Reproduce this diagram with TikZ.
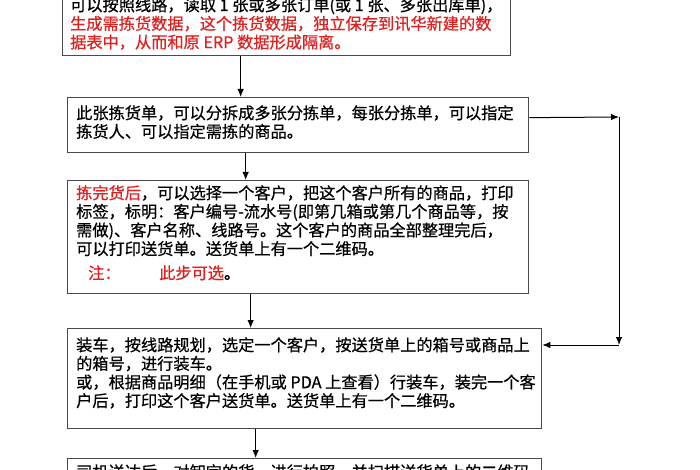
\documentclass[tikz,border=0pt]{standalone}
\usepackage{fontspec}
\usetikzlibrary{arrows.meta}
\newfontfamily\cjk[FakeBold=0.6]{Noto Sans CJK SC}
\definecolor{boxline}{HTML}{4A4A4A}
\definecolor{redtxt}{HTML}{E0201F}
\tikzset{
  box/.style={draw=boxline, line width=1.3pt, fill=white, inner sep=0pt, anchor=north west},
  txt/.style={inner sep=0pt, anchor=base west, font=\cjk\fontsize{16.2}{18.6}\selectfont},
  arr/.style={draw=black, line width=1pt, -{Latex[length=8pt,width=6.5pt]}}
}
\newcommand{\lines}[1]{\parbox[t]{480pt}{\cjk\fontsize{16.2}{18.6}\selectfont #1}}
\begin{document}
\begin{tikzpicture}[x=1pt,y=-1pt]
\useasboundingbox (0,0) rectangle (700,470);
\clip (0,0) rectangle (700,470);
\fill[white] (0,0) rectangle (700,470);

% boxes
\node[box, minimum width=448pt, minimum height=75pt] (b1) at (62,-20) {};
\node[box, minimum width=461pt, minimum height=55pt] (b2) at (67,97) {};
\node[box, minimum width=461pt, minimum height=113pt] (b3) at (67,180) {};
\node[box, minimum width=474pt, minimum height=100pt] (b4) at (67,328) {};
\node[box, minimum width=474pt, minimum height=60pt] (b5) at (67,458) {};

% texts
\node[txt] (t1) at (70,11) {\lines{可以按照线路，读取 1 张或多张订单(或 1 张、多张出库单)，\\
\textcolor{redtxt}{生成需拣货数据，这个拣货数据，独立保存到讯华新建的数}\\
\textcolor{redtxt}{据表中，从而和原 ERP 数据形成隔离。}}};
\node[txt] (t2) at (76,119) {\lines{此张拣货单，可以分拆成多张分拣单，每张分拣单，可以指定\\
拣货人、可以指定需拣的商品。}};
\node[txt] (t3) at (76,199) {\lines{\textcolor{redtxt}{拣完货后}，可以选择一个客户，把这个客户所有的商品，打印\\
标签，标明：客户编号-流水号(即第几箱或第几个商品等，按\\
需做)、客户名称、线路号。这个客户的商品全部整理完后，\\
可以打印送货单。送货单上有一个二维码。}};
\node[txt, text=redtxt] (t3a) at (88,279) {注：};
\node[txt] (t3b) at (159,279) {\textcolor{redtxt}{此步可选}。};
\node[txt] (t4) at (76,351) {\lines{装车，按线路规划，选定一个客户，按送货单上的箱号或商品上\\
的箱号，进行装车。\\
或，根据商品明细（在手机或 PDA 上查看）行装车，装完一个客\\
户后，打印这个客户送货单。送货单上有一个二维码。}};
\node[txt] (t5) at (76,478) {\lines{司机送达后，对卸完的货，进行拍照，并扫描送货单上的二维码}};

% vertical connectors
\coordinate (a1) at ([xshift=-46pt]b1.south);
\draw[arr] (a1) -- (a1 |- b2.north);
\coordinate (a2) at ([xshift=-52.5pt]b2.south);
\draw[arr] (a2) -- (a2 |- b3.north);
\coordinate (a3) at ([xshift=-47.5pt]b3.south);
\draw[arr] (a3) -- (a3 |- b4.north);
\coordinate (a4) at ([xshift=-49pt]b4.south);
\draw[arr] (a4) -- (a4 |- b5.north);

% right-hand bypass
\coordinate (r0) at ([yshift=7.5pt]b2.east);
\coordinate (c1) at (619,117);
\coordinate (c2) at (619,345);
\draw[arr] (r0) -- (c1);
\draw[arr] (c1) -- (c2);
\draw[arr] (c2) -- (c2 -| b4.east);
\end{tikzpicture}
\end{document}
